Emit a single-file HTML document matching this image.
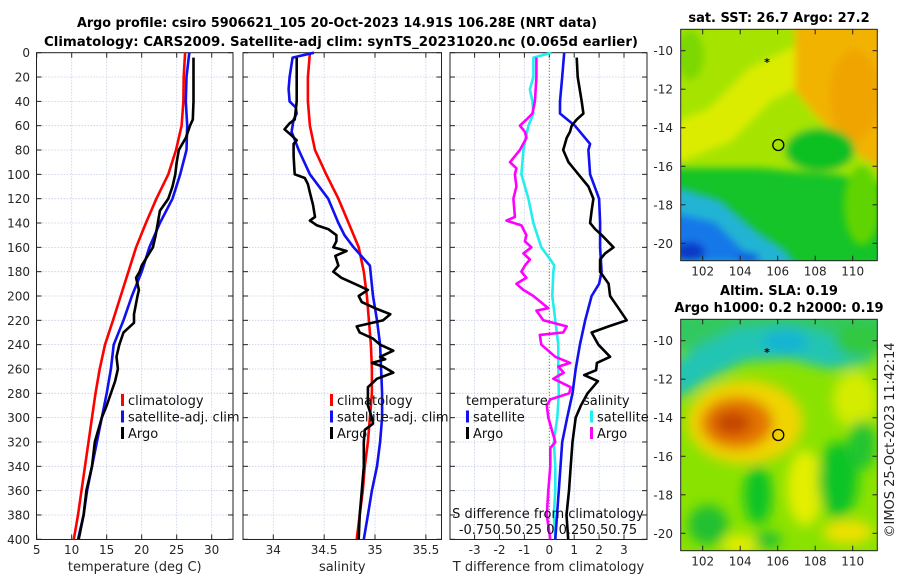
<!DOCTYPE html>
<html><head><meta charset="utf-8">
<style>
html,body{margin:0;padding:0;background:#fff;}
svg{display:block;font-family:"DejaVu Sans","Liberation Sans",sans-serif;}
</style></head>
<body>
<svg id="chart" width="900" height="580" viewBox="0 0 900 580" xmlns="http://www.w3.org/2000/svg">
<defs>
<filter id="blur1" x="-50%" y="-50%" width="200%" height="200%"><feGaussianBlur stdDeviation="6"/></filter>
<filter id="blur2" x="-50%" y="-50%" width="200%" height="200%"><feGaussianBlur stdDeviation="4"/></filter>
<clipPath id="clipMap1"><rect x="680.7" y="29.3" width="196.6" height="231.4"/></clipPath>
<clipPath id="clipMap2"><rect x="680.7" y="319.3" width="196.6" height="231.4"/></clipPath>
</defs>
<text x="337" y="27" font-size="13" font-weight="bold" text-anchor="middle" textLength="520" lengthAdjust="spacingAndGlyphs">Argo profile: csiro 5906621_105 20-Oct-2023 14.91S 106.28E (NRT data)</text>
<text x="341" y="46" font-size="13" font-weight="bold" text-anchor="middle" textLength="594" lengthAdjust="spacingAndGlyphs">Climatology: CARS2009. Satellite-adj clim: synTS_20231020.nc (0.065d earlier)</text>

<!-- SST map -->
<g>
<text x="779" y="22" font-size="13" font-weight="bold" text-anchor="middle">sat. SST: 26.7 Argo: 27.2</text>
<g clip-path="url(#clipMap1)">
<rect x="680" y="29" width="198" height="232" fill="#14c428"/>
<g filter="url(#blur2)">
<polygon points="660,20 890,20 890,185 840,175 800,172 760,168 660,168" fill="#a6e400"/>
<polyline points="670,145 720,125 760,85 810,60 890,50" fill="none" stroke="#dcec00" stroke-width="38"/>
<polygon points="795,20 890,20 890,175 850,150 815,115 795,90" fill="#f2b200"/>
<ellipse cx="855" cy="95" rx="25" ry="45" fill="#f0a400"/>
<ellipse cx="690" cy="55" rx="14" ry="25" fill="#7cd800"/>
<ellipse cx="820" cy="150" rx="35" ry="22" fill="#10c020"/>
<ellipse cx="862" cy="205" rx="18" ry="40" fill="#60d400"/>
<polygon points="670,185 720,200 755,230 785,250 800,270 670,270" fill="#20b4d4"/>
<polygon points="670,212 715,222 755,262 670,262" fill="#1478e8"/>
<ellipse cx="690" cy="252" rx="15" ry="10" fill="#0838c8"/>
<ellipse cx="748" cy="258" rx="12" ry="5" fill="#1050e0"/>
</g>
</g>
<rect x="680.7" y="29.3" width="196.6" height="231.4" fill="none" stroke="#222" stroke-width="1"/>
<text x="767" y="66" font-size="11" font-weight="bold" text-anchor="middle">*</text>
<circle cx="778.3" cy="145" r="5.5" fill="none" stroke="#000" stroke-width="1.3"/>
</g>

<!-- SLA map -->
<g>
<text x="779" y="295" font-size="13" font-weight="bold" text-anchor="middle">Altim. SLA: 0.19</text>
<text x="779" y="312" font-size="13" font-weight="bold" text-anchor="middle">Argo h1000: 0.2 h2000: 0.19</text>
<g clip-path="url(#clipMap2)">
<rect x="680" y="319" width="198" height="232" fill="#8ae200"/>
<g filter="url(#blur1)">
<rect x="670" y="310" width="220" height="40" fill="#30c860"/>
<polyline points="670,385 700,365 740,345 790,342 830,352 870,345" fill="none" stroke="#22c4b4" stroke-width="34"/>
<ellipse cx="785" cy="342" rx="22" ry="12" fill="#14b4d4"/>
<ellipse cx="860" cy="340" rx="25" ry="18" fill="#30c840"/>
<ellipse cx="745" cy="422" rx="58" ry="42" fill="#f0d400"/>
<ellipse cx="737" cy="423" rx="36" ry="26" fill="#e47400"/>
<ellipse cx="733" cy="423" rx="18" ry="12" fill="#c44400"/>
<ellipse cx="855" cy="400" rx="22" ry="28" fill="#d4ec00"/>
<ellipse cx="805" cy="488" rx="18" ry="38" fill="#e4ee00"/>
<ellipse cx="758" cy="495" rx="14" ry="30" fill="#10c428"/>
<ellipse cx="838" cy="480" rx="20" ry="38" fill="#10c428"/>
<ellipse cx="862" cy="445" rx="14" ry="25" fill="#20c430"/>
<ellipse cx="708" cy="525" rx="20" ry="20" fill="#20c030"/>
<ellipse cx="740" cy="545" rx="18" ry="10" fill="#e6ec00"/>
<ellipse cx="848" cy="532" rx="25" ry="12" fill="#eee000"/>
<ellipse cx="768" cy="540" rx="14" ry="8" fill="#20c030"/>
</g>
</g>
<rect x="680.7" y="319.3" width="196.6" height="231.4" fill="none" stroke="#222" stroke-width="1"/>
<text x="767" y="356" font-size="11" font-weight="bold" text-anchor="middle">*</text>
<circle cx="778.3" cy="435" r="5.5" fill="none" stroke="#000" stroke-width="1.3"/>
</g>
<text transform="translate(894,440) rotate(-90)" font-size="13" text-anchor="middle" fill="#222">©IMOS 25-Oct-2023 11:42:14</text>

<g id="plots"></g>
</svg>
<script>
// ---- data (depth in m) ----
const stdDepth = [0,20,40,60,80,100,120,140,160,180,200,220,240,260,280,300,320,340,360,380,400];
const tClim = [26.2,26.0,25.95,25.7,24.9,23.8,22.1,20.6,19.2,18.1,17.0,15.9,14.75,14.0,13.4,12.9,12.4,11.9,11.4,10.9,10.3];
const tSat = [26.8,26.4,26.3,26.5,26.4,25.5,24.4,22.6,21.1,20.0,18.6,17.4,16.0,15.6,15.0,14.3,13.6,12.9,12.2,11.7,10.9];
const tArgoDepth = [4,20,40,55,60,70,80,90,100,110,120,130,140,150,160,175,180,185,195,200,215,222,230,240,250,260,270,280,290,300,320,340,360,380,400];
const tArgo = [27.4,27.4,27.4,27.3,26.9,26.3,25.3,25.0,24.8,24.4,23.8,22.6,22.3,22.0,21.6,20.0,19.7,19.2,19.6,19.4,18.9,18.9,17.4,16.8,16.4,16.6,16.2,15.6,15.0,14.3,13.3,12.9,12.1,11.7,11.0];

const sClim = [34.36,34.34,34.34,34.36,34.41,34.52,34.64,34.74,34.84,34.89,34.92,34.94,34.96,34.97,34.97,34.95,34.93,34.90,34.88,34.85,34.82];
const sSatDepth = [0,4,20,30,40,45,50,55,65,80,100,120,140,150,160,175,200,220,240,260,280,300,320,340,360,380,400];
const sSat = [34.40,34.19,34.16,34.15,34.16,34.22,34.23,34.20,34.18,34.25,34.36,34.54,34.64,34.70,34.79,34.95,34.98,35.02,35.05,35.06,35.07,35.07,35.05,35.02,34.97,34.93,34.89];
const sArgoDepth = [4,20,40,55,58,63,68,72,75,85,100,103,108,115,125,135,138,142,145,150,155,160,163,167,175,180,185,190,195,200,205,210,215,220,225,230,235,240,245,250,252,255,258,263,268,275,290,300,305,310,320,340,360,380,400];
const sArgo = [34.23,34.23,34.23,34.21,34.16,34.11,34.18,34.23,34.20,34.20,34.21,34.31,34.34,34.36,34.39,34.41,34.36,34.43,34.54,34.62,34.62,34.59,34.72,34.61,34.64,34.59,34.67,34.80,34.93,34.84,34.87,35.00,35.15,35.08,34.82,34.85,34.98,35.05,35.18,35.05,35.10,34.97,35.08,35.18,35.02,34.93,34.93,34.97,34.98,34.90,34.89,34.89,34.87,34.85,34.84];

const tdSatDepth = [0,20,40,50,60,75,80,100,120,140,160,180,190,200,220,240,260,280,300,320,340,360,380,400];
const tdSat = [0.60,0.52,0.43,0.43,1.03,1.64,1.57,1.64,2.0,2.04,2.04,2.1,2.0,1.7,1.44,1.23,1.06,0.93,0.72,0.52,0.45,0.38,0.31,0.24];
const tdArgoDepth = [4,20,40,50,55,60,65,70,75,80,90,100,110,120,130,140,145,150,160,165,170,180,190,200,210,220,225,230,240,250,255,261,265,270,280,290,300,320,340,360,380,400];
const tdArgo = [1.10,1.14,1.30,1.37,1.10,0.90,0.83,0.70,0.63,0.56,0.77,1.17,1.57,1.77,1.70,1.64,1.84,2.11,2.58,2.24,2.04,2.04,2.38,2.44,2.78,3.11,2.38,1.70,1.97,2.44,1.91,1.88,1.40,1.95,1.54,1.27,1.06,0.93,0.86,0.79,0.69,0.76];
const sdSatDepth = [0,4,20,30,40,50,60,80,100,120,140,160,170,175,180,200,220,240,260,280,300,320,340,360,380,400];
const sdSat = [0.022,-0.16,-0.16,-0.195,-0.17,-0.16,-0.21,-0.26,-0.28,-0.21,-0.16,-0.08,0.01,0.05,0.04,0.03,0.06,0.09,0.09,0.095,0.08,0.045,0.06,0.06,0.045,0.06];
const sdArgoDepth = [4,20,40,50,55,60,65,70,80,90,95,100,110,120,135,138,142,150,155,160,165,170,175,180,185,190,195,200,210,212,220,225,230,232,240,245,250,255,258,263,268,275,280,285,290,300,320,325,340,360,380,400];
const sdArgo = [-0.13,-0.13,-0.145,-0.17,-0.23,-0.295,-0.245,-0.23,-0.295,-0.395,-0.33,-0.345,-0.33,-0.36,-0.345,-0.43,-0.28,-0.23,-0.245,-0.18,-0.26,-0.195,-0.245,-0.28,-0.23,-0.33,-0.26,-0.16,-0.01,-0.13,-0.06,0.175,0.14,-0.095,-0.08,-0.01,0.06,0.21,0.09,0.145,0.04,0.215,0.2,0.01,-0.025,-0.01,0.06,0.01,0.01,-0.01,-0.025,0.01];

const depthTicks = [0,20,40,60,80,100,120,140,160,180,200,220,240,260,280,300,320,340,360,380,400];
const tTicks = [5,10,15,20,25,30];
const sTicks = [34,34.5,35,35.5];
const dTicks = [-3,-2,-1,0,1,2,3];
const sdTickLabels = "-0.750.50.25 0 0.250.50.75";
const mapLonTicks = [102,104,106,108,110];
const mapLatTicks = [-10,-12,-14,-16,-18,-20];

// ---- scales ----
const NS = "http://www.w3.org/2000/svg";
const root = document.getElementById('plots');
const TOP = 52.7, BOT = 539.5;
function yD(d){ return TOP + d * 1.2165; }
function xT(v){ return 36.7 + (v - 5) * 7.0; }
function xS(v){ return 273.3 + (v - 34) * 101.7; }
function xDT(v){ return 549.3 + v * 24.9; }
function xDS(v){ return xDT(v * 4); }
function lonX(l){ return 702.7 + (l - 102) * 18.75; }
function latY1(la){ return 50.7 + (-10 - la) * 19.26; }
function latY2(la){ return 340.7 + (-10 - la) * 19.26; }

function mk(tag, attrs, parent){
  const e = document.createElementNS(NS, tag);
  for (const k in attrs) e.setAttribute(k, attrs[k]);
  (parent || root).appendChild(e);
  return e;
}
function txt(s, x, y, size, anchor, parent){
  const t = mk('text', {x:x, y:y, 'font-size':size, 'text-anchor':anchor || 'middle', fill:'#262626'}, parent);
  t.textContent = s;
  return t;
}

const panels = [
  {name:'temperature', L:36.5, R:233, xs:xT, ticks:tTicks, label:'temperature (deg C)'},
  {name:'salinity', L:243, R:441.5, xs:xS, ticks:sTicks, label:'salinity'},
  {name:'difference', L:450, R:647, xs:xDT, ticks:dTicks, label:'T difference from climatology'}
];

panels.forEach((p, i) => {
  const g = mk('g', {});
  
  
  depthTicks.forEach(d => {
    const l = mk('line', {x1:p.L, x2:p.R, y1:yD(d), y2:yD(d), stroke:'#c4cce6', 'stroke-width':0.8, 'stroke-dasharray':'1.5,1.5'}, g);
    
    
  });
  p.ticks.forEach(v => {
    const x = p.xs(v);
    const zero = (i === 2 && v === 0);
    const l = mk('line', {x1:x, x2:x, y1:TOP, y2:BOT, stroke: zero ? '#5a4a2a' : '#c4cce6', 'stroke-width': zero ? 1 : 0.8, 'stroke-dasharray': zero ? '1,2' : '1.5,1.5'}, g);
    
    
  });
  depthTicks.forEach(d => {
    mk('line', {x1:p.L, x2:p.L + 5, y1:yD(d), y2:yD(d), stroke:'#222', 'stroke-width':1}, g);
    mk('line', {x1:p.R - 5, x2:p.R, y1:yD(d), y2:yD(d), stroke:'#222', 'stroke-width':1}, g);
  });
  p.ticks.forEach(v => {
    const x = p.xs(v);
    mk('line', {x1:x, x2:x, y1:BOT, y2:BOT - 5, stroke:'#222', 'stroke-width':1}, g);
    mk('line', {x1:x, x2:x, y1:TOP, y2:TOP + 5, stroke:'#222', 'stroke-width':1}, g);
    const t = txt(String(v), x, 554, 12, 'middle', g);
    
    
  });
  const xl = txt(p.label, (p.L + p.R) / 2, 571, 13, 'middle', g);
  
  
  const fr = mk('rect', {x:p.L, y:TOP, width:p.R - p.L, height:BOT - TOP, fill:'none', stroke:'#222', 'stroke-width':1}, g);
  
  
  p.g = g;
});

depthTicks.forEach(d => {
  const t = txt(String(d), 30, yD(d) + 4.5, 12, 'end');
  
  
});

function line(depths, vals, xs, color, name, parent){
  const pts = depths.map((d, k) => xs(vals[k]).toFixed(1) + ',' + yD(d).toFixed(1)).join(' ');
  const pl = mk('polyline', {points:pts, fill:'none', stroke:color, 'stroke-width':2.6, 'stroke-linejoin':'round'}, parent);
  
  
}
function legend(items, x, y0, parent){
  items.forEach((it, k) => {
    const y = y0 + k * 16.5;
    if (it.color) mk('rect', {x:x, y:y - 11, width:3, height:12, fill:it.color}, parent);
    const t = txt(it.text, x + (it.color ? 7 : 0), y, 13, 'start', parent);
    t.setAttribute('fill', '#111');
    
    
  });
}

const g1 = panels[0].g, g2 = panels[1].g, g3 = panels[2].g;
line(stdDepth, tClim, xT, '#ff0000', 'temperature-climatology-line', g1);
line(stdDepth, tSat, xT, '#1010f0', 'temperature-satellite-line', g1);
line(tArgoDepth, tArgo, xT, '#000000', 'temperature-argo-line', g1);
legend([{text:'climatology',color:'#ff0000'},{text:'satellite-adj. clim',color:'#1010f0'},{text:'Argo',color:'#000'}], 121, 405, g1);

line(stdDepth, sClim, xS, '#ff0000', 'salinity-climatology-line', g2);
line(sSatDepth, sSat, xS, '#1010f0', 'salinity-satellite-line', g2);
line(sArgoDepth, sArgo, xS, '#000000', 'salinity-argo-line', g2);
legend([{text:'climatology',color:'#ff0000'},{text:'satellite-adj. clim',color:'#1010f0'},{text:'Argo',color:'#000'}], 330, 405, g2);

line(sdSatDepth, sdSat, xDS, '#22eeee', 'salinity-diff-satellite-line', g3);
line(sdArgoDepth, sdArgo, xDS, '#ff00ff', 'salinity-diff-argo-line', g3);
line(tdSatDepth, tdSat, xDT, '#1010f0', 'temperature-diff-satellite-line', g3);
line(tdArgoDepth, tdArgo, xDT, '#000000', 'temperature-diff-argo-line', g3);
legend([{text:'temperature'},{text:'satellite',color:'#1010f0'},{text:'Argo',color:'#000'}], 466, 405, g3);
legend([{text:'salinity'}], 583, 405, g3);
legend([{text:'satellite',color:'#22eeee'},{text:'Argo',color:'#ff00ff'}], 590, 421.5, g3);
const sdt = txt('S difference from climatology', 548, 518, 13, 'middle', g3);
sdt.setAttribute('fill', '#111');


const sdl = txt(sdTickLabels, 548, 534, 13, 'middle', g3);
sdl.setAttribute('fill', '#111');



[[latY1, 29.3, 260.7, 'sst'], [latY2, 319.3, 550.7, 'sla']].forEach(m => {
  const [ly, top, bot, nm] = m;
  mapLatTicks.forEach(la => {
    const y = ly(la);
    mk('line', {x1:877.3, x2:872.5, y1:y, y2:y, stroke:'#222'});
    mk('line', {x1:680.7, x2:685.5, y1:y, y2:y, stroke:'#222'});
    const t = txt(String(la), 673, y + 4.5, 12, 'end');
    
    
  });
  mapLonTicks.forEach(lo => {
    const x = lonX(lo);
    mk('line', {x1:x, x2:x, y1:bot, y2:bot - 5, stroke:'#222'});
    mk('line', {x1:x, x2:x, y1:top, y2:top + 5, stroke:'#222'});
    const t = txt(String(lo), x, bot + 15, 12, 'middle');
    
    
  });
});
</script>
</body></html>
